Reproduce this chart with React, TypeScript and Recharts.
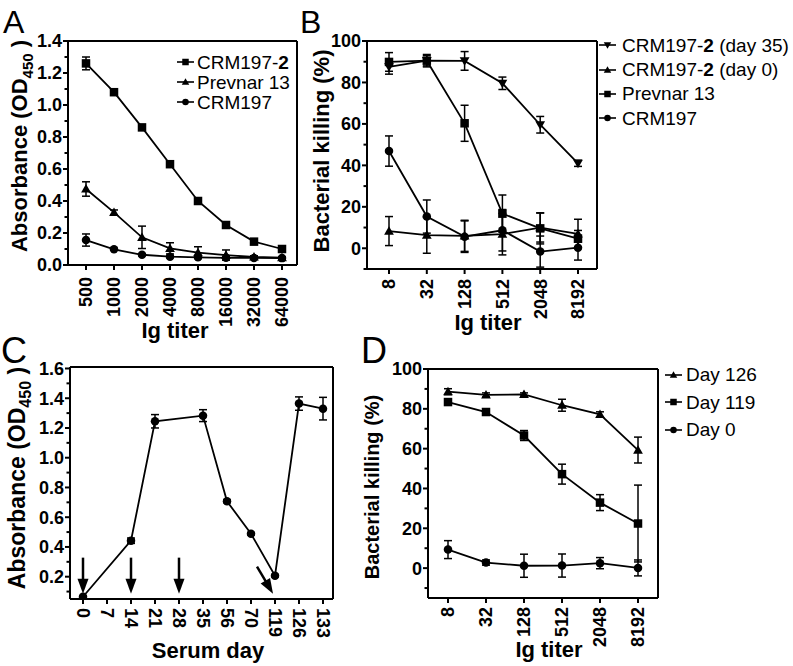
import React from 'react';
import {
  LineChart,
  Line,
  XAxis,
  YAxis,
  CartesianGrid,
  ErrorBar,
  ReferenceDot,
  Legend,
  Label,
} from 'recharts';

const FONT = '"Liberation Sans", Arial, Helvetica, sans-serif';
const INK = '#000';

// ---- Panel A: ELISA absorbance vs Ig titer
const aTiters = ['500', '1000', '2000', '4000', '8000', '16000', '32000', '64000'];
const aCrm2 = [1.26, 1.08, 0.86, 0.63, 0.4, 0.25, 0.146, 0.1];
const aCrm2Err = [0.04, 0.008, 0.015, 0.01, 0.01, 0.01, 0.008, 0.008];
const aPrevnar = [0.475, 0.329, 0.173, 0.104, 0.077, 0.062, 0.05, 0.046];
const aPrevnarErr = [0.045, 0.015, 0.07, 0.035, 0.037, 0.032, 0.008, 0.005];
const aCrm = [0.156, 0.098, 0.064, 0.052, 0.048, 0.045, 0.044, 0.043];
const aCrmErr = [0.038, 0.006, 0.006, 0.006, 0.005, 0.005, 0.005, 0.005];
const aTicks = [0, 0.1, 0.2, 0.3, 0.4, 0.5, 0.6, 0.7, 0.8, 0.9, 1.0, 1.1, 1.2, 1.3, 1.4];

// ---- Panel B: bacterial killing vs Ig titer
const bTiters = ['8', '32', '128', '512', '2048', '8192'];
const bDay35 = [87.5, 90.5, 90.4, 79.6, 59.6, 41];
const bDay35Err = [3.5, 2.5, 4.5, 3, 4, 1.5];
const bDay0 = [8.3, 6.3, 6, 6.8, 10, 7];
const bDay0Err = [7, 8.7, 7.5, 10, 7, 7];
const bPrevnar = [89.9, 90.5, 60.3, 16.7, 9.6, 4.6];
const bPrevnarErr = [4.5, 3, 8.7, 9, 7.5, 4];
const bCrm = [46.9, 15.3, 5.6, 8.7, -1.6, 0.3];
const bCrmErr = [7.3, 8, 7.6, 10, 7.5, 6];
const pctTicks = [-10, 0, 10, 20, 30, 40, 50, 60, 70, 80, 90, 100];

// ---- Panel C: absorbance vs serum day
const cDays = [0, 7, 14, 21, 28, 35, 56, 70, 119, 126, 133];
const cAbs = [0.065, null, 0.442, 1.245, null, 1.283, 0.707, 0.489, 0.207, 1.364, 1.33];
const cAbsErr = [0.005, null, 0.018, 0.045, null, 0.04, 0.01, 0.008, 0.008, 0.045, 0.076];
const cTicks = [0.1, 0.2, 0.3, 0.4, 0.5, 0.6, 0.7, 0.8, 0.9, 1.0, 1.1, 1.2, 1.3, 1.4, 1.5, 1.6];
const cInjectionDays = [0, 14, 28];
const cBoostDay = 119;
const cArrowTip = 0.086;

// ---- Panel D: bacterial killing vs Ig titer
const dTiters = ['8', '32', '128', '512', '2048', '8192'];
const dDay126 = [88.6, 87, 87.2, 81.8, 77.2, 59.3];
const dDay126Err = [1.5, 1, 0.8, 3, 1.3, 6.5];
const dDay119 = [83.4, 78.4, 66.6, 47.2, 32.9, 22.4];
const dDay119Err = [1, 1.5, 2.5, 5, 4, 19.3];
const dDay0 = [9.3, 2.8, 1.2, 1.3, 2.5, 0.1];
const dDay0Err = [4.5, 1.3, 5.8, 5.8, 2.8, 4];

type Shape = 'square' | 'triangle' | 'invTriangle' | 'circle';
type Series = { key: string; name: string; shape: Shape; values: (number | null)[]; errors: (number | null)[] };

const aSeries: Series[] = [
  { key: 'crm2', name: 'CRM197-2', shape: 'square', values: aCrm2, errors: aCrm2Err },
  { key: 'prevnar', name: 'Prevnar 13', shape: 'triangle', values: aPrevnar, errors: aPrevnarErr },
  { key: 'crm', name: 'CRM197', shape: 'circle', values: aCrm, errors: aCrmErr },
];
const bSeries: Series[] = [
  { key: 'd35', name: 'CRM197-2 (day 35)', shape: 'invTriangle', values: bDay35, errors: bDay35Err },
  { key: 'd0', name: 'CRM197-2 (day 0)', shape: 'triangle', values: bDay0, errors: bDay0Err },
  { key: 'prevnar', name: 'Prevnar 13', shape: 'square', values: bPrevnar, errors: bPrevnarErr },
  { key: 'crm', name: 'CRM197', shape: 'circle', values: bCrm, errors: bCrmErr },
];
const cSeries: Series[] = [
  { key: 'abs', name: 'CRM197-2', shape: 'circle', values: cAbs, errors: cAbsErr },
];
const dSeries: Series[] = [
  { key: 'd126', name: 'Day 126', shape: 'triangle', values: dDay126, errors: dDay126Err },
  { key: 'd119', name: 'Day 119', shape: 'square', values: dDay119, errors: dDay119Err },
  { key: 'd0', name: 'Day 0', shape: 'circle', values: dDay0, errors: dDay0Err },
];

function buildRows(xKey: string, cats: (string | number)[], series: Series[]) {
  return cats.map((c, i) => {
    const row: any = { [xKey]: c };
    series.forEach((s) => {
      row[s.key] = s.values[i];
      row[s.key + 'Err'] = s.errors[i];
    });
    return row;
  });
}

function Marker({ shape, cx, cy, size }: { shape: Shape; cx: number; cy: number; size: number }) {
  const h = size / 2;
  if (shape === 'square') return <rect x={cx - h} y={cy - h} width={size} height={size} fill={INK} />;
  if (shape === 'circle') return <circle cx={cx} cy={cy} r={h} fill={INK} />;
  if (shape === 'triangle')
    return (
      <polygon
        points={`${cx},${cy - h * 1.15} ${cx + h * 1.15},${cy + h * 0.85} ${cx - h * 1.15},${cy + h * 0.85}`}
        fill={INK}
      />
    );
  return (
    <polygon
      points={`${cx},${cy + h * 1.15} ${cx + h * 1.15},${cy - h * 0.85} ${cx - h * 1.15},${cy - h * 0.85}`}
      fill={INK}
    />
  );
}

const dotFn = (shape: Shape) => (p: any) => {
  const { cx, cy, index } = p;
  if (cx == null || cy == null || Number.isNaN(cy)) return <g key={`dot-${index}`} />;
  return <Marker key={`dot-${index}`} shape={shape} cx={cx} cy={cy} size={8.5} />;
};

// "CRM197-2" has its 2 in bold
function SeriesName({ name }: { name: string }) {
  const m = name.match(/^(CRM197-)(2)(.*)$/);
  if (!m) return <span>{name}</span>;
  return (
    <span>
      {m[1]}
      <b>{m[2]}</b>
      {m[3]}
    </span>
  );
}

function LegendBlock({ series, rowH, gap }: { series: Series[]; rowH: number; gap: number }) {
  return (
    <div style={{ fontFamily: FONT, fontSize: 19, color: INK, lineHeight: 1 }}>
      {series.map((s) => (
        <div key={s.key} style={{ display: 'flex', alignItems: 'center', height: rowH, whiteSpace: 'nowrap' }}>
          <svg width={17} height={12} style={{ flex: 'none', marginRight: gap }}>
            <line x1={0} y1={6} x2={17} y2={6} stroke={INK} strokeWidth={1.6} />
            <Marker shape={s.shape} cx={8.5} cy={6} size={6.5} />
          </svg>
          <SeriesName name={s.name} />
        </div>
      ))}
    </div>
  );
}

const xTick = (rot: number, gap: number) => (p: any) => {
  const { x, y, payload } = p;
  return (
    <g>
      <line x1={x} y1={y} x2={x} y2={y + 5} stroke={INK} strokeWidth={2} />
      <text
        transform={`translate(${x},${y + gap}) rotate(${rot})`}
        textAnchor={rot < 0 ? 'end' : 'start'}
        dy="0.36em"
        fontFamily={FONT}
        fontSize={18}
        fontWeight="bold"
        fill={INK}
      >
        {payload.value}
      </text>
    </g>
  );
};

const yTick = (isMajor: (v: number) => boolean, fmt: (v: number) => string) => (p: any) => {
  const { x, y, payload } = p;
  const v = payload.value;
  const major = isMajor(v);
  return (
    <g>
      <line x1={x} y1={y} x2={x - (major ? 5 : 3.5)} y2={y} stroke={INK} strokeWidth={2} />
      {major && (
        <text x={x - 6} y={y} dy="0.36em" textAnchor="end" fontFamily={FONT} fontSize={18} fontWeight="bold" fill={INK}>
          {fmt(v)}
        </text>
      )}
    </g>
  );
};

const axisStyle = { stroke: INK, strokeWidth: 2 };

// top and right edges of the plot frame, taken from the chart's own offset
const frameTop = ({ offset }: any) => [offset.top];
const frameRight = ({ offset }: any) => [offset.left + offset.width];

function absorbanceTitle(x: number, y: number, size: number) {
  const sub = Math.round(size * 0.7);
  return (
    <text
      transform={`translate(${x},${y}) rotate(-90)`}
      textAnchor="middle"
      fontFamily={FONT}
      fontSize={size}
      fontWeight="bold"
      fill={INK}
    >
      Absorbance (OD
      <tspan dy={size * 0.28} fontSize={sub}>
        450
      </tspan>
      <tspan dy={-size * 0.28}> )</tspan>
    </text>
  );
}

function killingTitle(x: number, y: number, size: number) {
  return (
    <text
      transform={`translate(${x},${y}) rotate(-90)`}
      textAnchor="middle"
      fontFamily={FONT}
      fontSize={size}
      fontWeight="bold"
      fill={INK}
    >
      Bacterial killing (%)
    </text>
  );
}

type PanelProps = {
  left: number;
  top: number;
  width: number;
  height: number;
  mTop: number;
  mRight: number;
  yAxisW: number;
  xAxisH: number;
  xKey: string;
  cats: (string | number)[];
  xPad: { left: number; right: number };
  yDomain: [number, number];
  yTicks: number[];
  isMajor: (v: number) => boolean;
  fmt: (v: number) => string;
  series: Series[];
  xRot: number;
  xGap: number;
  xTitle: { text: string; x: number; y: number };
  yTitle: React.ReactElement;
  legend?: { left: number; top: number; rowH: number; gap: number };
  extras?: React.ReactNode;
};

function Panel(p: PanelProps) {
  const rows = buildRows(p.xKey, p.cats, p.series);
  return (
    <div style={{ position: 'absolute', left: p.left, top: p.top, width: p.width, height: p.height }}>
      <LineChart
        width={p.width}
        height={p.height}
        data={rows}
        margin={{ top: p.mTop, right: p.mRight, bottom: 0, left: 0 }}
      >
        <CartesianGrid
          stroke={INK}
          strokeWidth={2}
          horizontalCoordinatesGenerator={frameTop}
          verticalCoordinatesGenerator={frameRight}
        />
        <XAxis
          dataKey={p.xKey}
          type="category"
          interval={0}
          padding={p.xPad}
          height={p.xAxisH}
          tickSize={0}
          tickMargin={0}
          tickLine={false}
          axisLine={axisStyle}
          tick={xTick(p.xRot, p.xGap)}
        >
          <Label
            content={() => (
              <text
                x={p.xTitle.x}
                y={p.xTitle.y}
                textAnchor="middle"
                fontFamily={FONT}
                fontSize={22}
                fontWeight="bold"
                fill={INK}
              >
                {p.xTitle.text}
              </text>
            )}
          />
        </XAxis>
        <YAxis
          type="number"
          domain={p.yDomain}
          ticks={p.yTicks}
          interval={0}
          allowDataOverflow
          width={p.yAxisW}
          tickSize={0}
          tickMargin={0}
          tickLine={false}
          axisLine={axisStyle}
          tick={yTick(p.isMajor, p.fmt)}
        >
          <Label content={() => p.yTitle} />
        </YAxis>
        {p.legend && (
          <Legend
            layout="vertical"
            align="center"
            verticalAlign="middle"
            wrapperStyle={{ left: p.legend.left, top: p.legend.top, width: 'auto', height: 'auto' }}
            content={() => <LegendBlock series={p.series} rowH={p.legend!.rowH} gap={p.legend!.gap} />}
          />
        )}
        {p.series.map((s) => (
          <Line
            key={s.key}
            dataKey={s.key}
            name={s.name}
            type="linear"
            stroke={INK}
            strokeWidth={1.8}
            dot={dotFn(s.shape)}
            activeDot={false}
            connectNulls
            isAnimationActive={false}
          >
            <ErrorBar dataKey={s.key + 'Err'} width={4} stroke={INK} strokeWidth={1.5} />
          </Line>
        ))}
        {p.extras}
      </LineChart>
    </div>
  );
}

const arrowDown = (p: any) => {
  const { cx, cy } = p;
  return (
    <g>
      <line x1={cx} y1={cy - 36} x2={cx} y2={cy - 13} stroke={INK} strokeWidth={2.5} />
      <polygon points={`${cx - 5.5},${cy - 15} ${cx + 5.5},${cy - 15} ${cx},${cy}`} fill={INK} />
    </g>
  );
};

const arrowDiag = (p: any) => {
  const tx = p.cx - 2;
  const ty = p.cy;
  const sx = tx - 16;
  const sy = ty - 27;
  const len = Math.hypot(tx - sx, ty - sy);
  const ux = (tx - sx) / len;
  const uy = (ty - sy) / len;
  const bx = tx - ux * 15;
  const by = ty - uy * 15;
  return (
    <g>
      <line x1={sx} y1={sy} x2={bx + ux * 2} y2={by + uy * 2} stroke={INK} strokeWidth={2.5} />
      <polygon
        points={`${bx - uy * 5.5},${by + ux * 5.5} ${bx + uy * 5.5},${by - ux * 5.5} ${tx},${ty}`}
        fill={INK}
      />
    </g>
  );
};

const tenthMajor = (v: number) => Math.round(v * 10) % 2 === 0;
const fmt1 = (v: number) => v.toFixed(1);
const pctMajor = (v: number) => v >= 0 && v % 20 === 0;
const fmt0 = (v: number) => String(v);

export default function App() {
  return (
    <div
      style={{
        position: 'absolute',
        left: 0,
        top: 0,
        width: 793,
        height: 666,
        background: '#fff',
        overflow: 'hidden',
        fontFamily: FONT,
      }}
    >
      <Panel
        left={0}
        top={0}
        width={300}
        height={345}
        mTop={41}
        mRight={3}
        yAxisW={68}
        xAxisH={80}
        xKey="titer"
        cats={aTiters}
        xPad={{ left: 18, right: 15 }}
        yDomain={[0, 1.4]}
        yTicks={aTicks}
        isMajor={tenthMajor}
        fmt={fmt1}
        series={aSeries}
        xRot={-90}
        xGap={12}
        xTitle={{ text: 'Ig titer', x: 175, y: 338 }}
        yTitle={absorbanceTitle(27, 146, 22)}
        legend={{ left: 177, top: 52, rowH: 20, gap: 3 }}
      />
      <Panel
        left={300}
        top={0}
        width={493}
        height={345}
        mTop={41}
        mRight={196}
        yAxisW={67}
        xAxisH={76}
        xKey="titer"
        cats={bTiters}
        xPad={{ left: 22, right: 19 }}
        yDomain={[-10, 100]}
        yTicks={pctTicks}
        isMajor={pctMajor}
        fmt={fmt0}
        series={bSeries}
        xRot={-90}
        xGap={10}
        xTitle={{ text: 'Ig titer', x: 188, y: 330 }}
        yTitle={killingTitle(29, 151, 22)}
        legend={{ left: 299, top: 33, rowH: 24.4, gap: 6 }}
      />
      <Panel
        left={0}
        top={345}
        width={340}
        height={321}
        mTop={22}
        mRight={7}
        yAxisW={70}
        xAxisH={67}
        xKey="day"
        cats={cDays}
        xPad={{ left: 13, right: 10 }}
        yDomain={[0.05, 1.61]}
        yTicks={cTicks}
        isMajor={(v) => v >= 0.2 && tenthMajor(v)}
        fmt={fmt1}
        series={cSeries}
        xRot={90}
        xGap={9}
        xTitle={{ text: 'Serum day', x: 208, y: 313 }}
        yTitle={absorbanceTitle(25, 133, 23)}
        extras={[
          ...cInjectionDays.map((d) => (
            <ReferenceDot key={`inj-${d}`} x={d} y={cArrowTip} ifOverflow="visible" shape={arrowDown} />
          )),
          <ReferenceDot key="boost" x={cBoostDay} y={cArrowTip} ifOverflow="visible" shape={arrowDiag} />,
        ]}
      />
      <Panel
        left={360}
        top={345}
        width={433}
        height={321}
        mTop={24}
        mRight={135}
        yAxisW={68}
        xAxisH={68}
        xKey="titer"
        cats={dTiters}
        xPad={{ left: 20, right: 20 }}
        yDomain={[-15, 100]}
        yTicks={pctTicks}
        isMajor={pctMajor}
        fmt={fmt0}
        series={dSeries}
        xRot={-90}
        xGap={9}
        xTitle={{ text: 'Ig titer', x: 189, y: 312 }}
        yTitle={killingTitle(19, 142, 20)}
        legend={{ left: 305, top: 16, rowH: 27.5, gap: 4 }}
      />
      <svg
        width={793}
        height={666}
        style={{ position: 'absolute', left: 0, top: 0, pointerEvents: 'none' }}
      >
        <text x={3} y={33} fontFamily={FONT} fontSize={32} fill={INK}>A</text>
        <text x={300} y={33} fontFamily={FONT} fontSize={32} fill={INK}>B</text>
        <text x={1} y={363} fontFamily={FONT} fontSize={36} fill={INK}>C</text>
        <text x={361} y={363} fontFamily={FONT} fontSize={36} fill={INK}>D</text>
      </svg>
    </div>
  );
}
